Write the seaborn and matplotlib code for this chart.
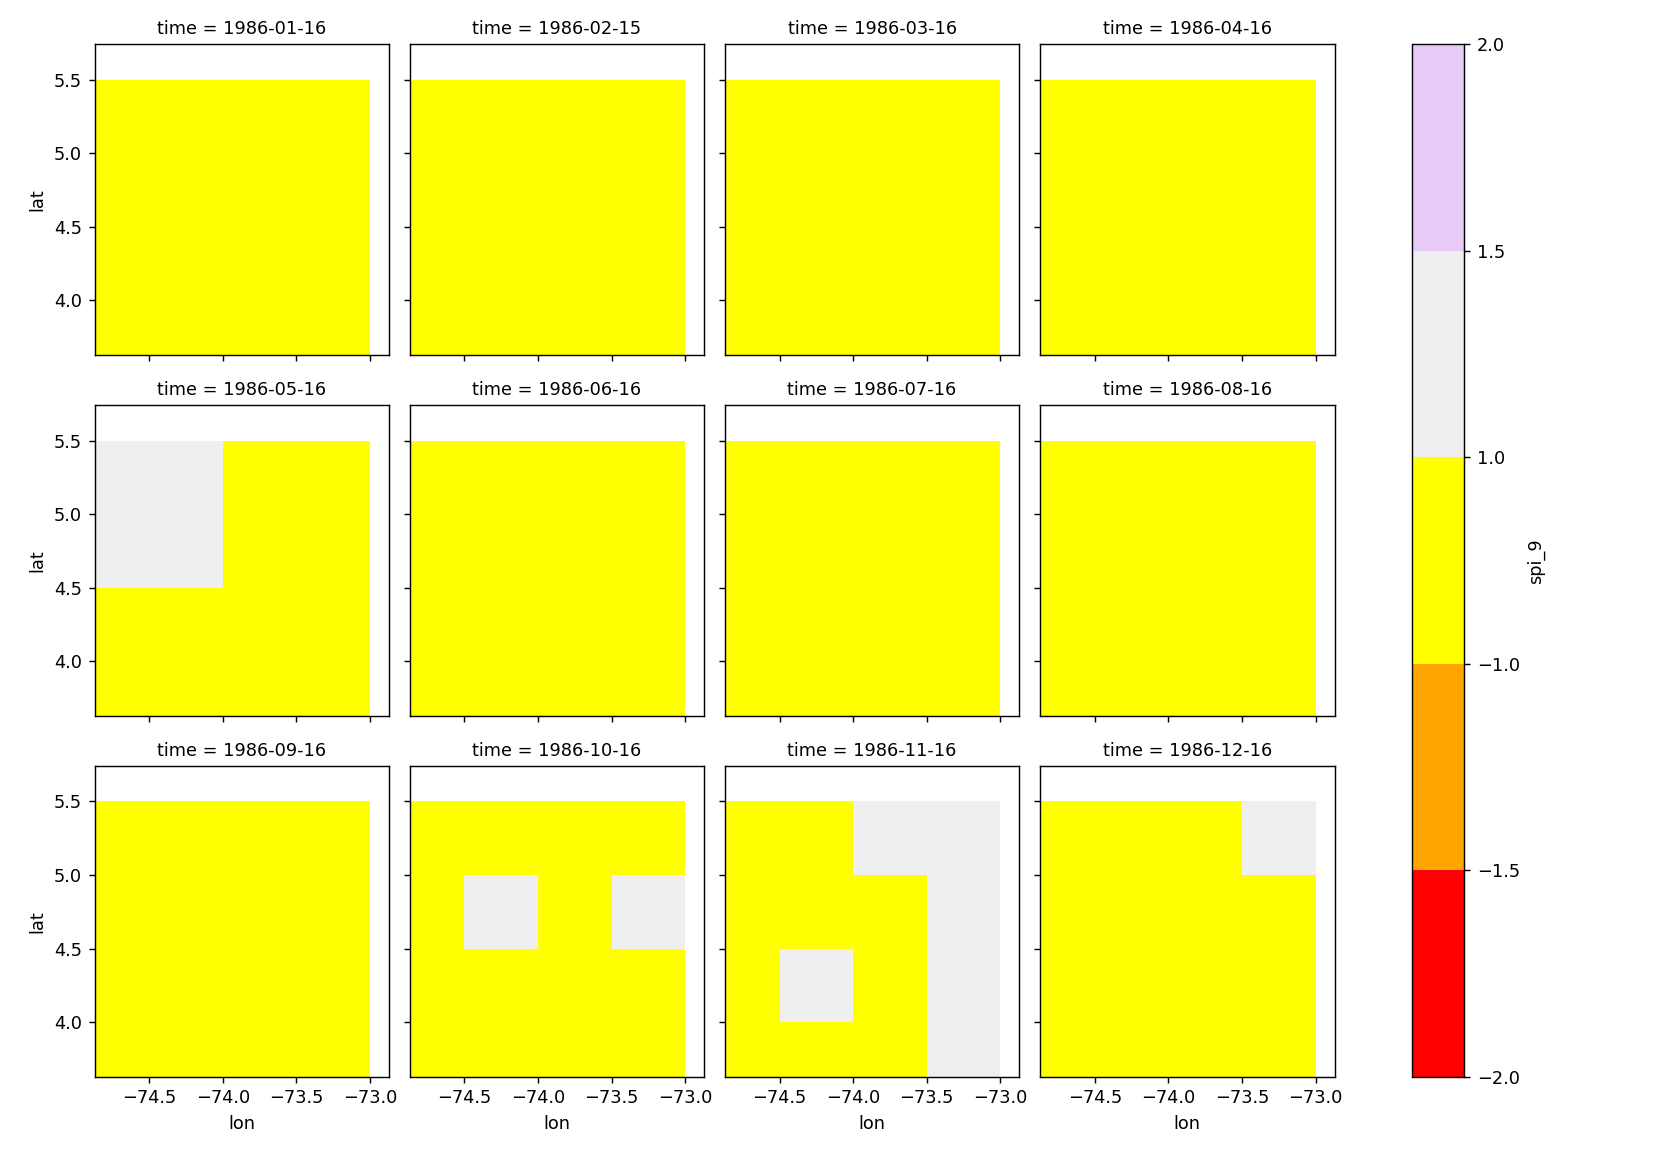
import numpy as np
import pandas as pd
import seaborn as sns
import matplotlib.pyplot as plt
from matplotlib.colors import ListedColormap, BoundaryNorm
from matplotlib.cm import ScalarMappable

# grid cell centres
lon = [-74.75, -74.25, -73.75, -73.25]
lat = [5.25, 4.75, 4.25, 3.75]  # rows below go north -> south

months = ["1986-01-16", "1986-02-15", "1986-03-16", "1986-04-16",
          "1986-05-16", "1986-06-16", "1986-07-16", "1986-08-16",
          "1986-09-16", "1986-10-16", "1986-11-16", "1986-12-16"]

# spi_9 values per month (approximate, read from the colour classes)
jan = [[0.5, 0.5, 0.5, 0.5], [0.5, 0.5, 0.5, 0.5], [0.5, 0.5, 0.5, 0.5], [0.5, 0.5, 0.5, 0.5]]
feb = [[0.5, 0.5, 0.5, 0.5], [0.5, 0.5, 0.5, 0.5], [0.5, 0.5, 0.5, 0.5], [0.5, 0.5, 0.5, 0.5]]
mar = [[0.5, 0.5, 0.5, 0.5], [0.5, 0.5, 0.5, 0.5], [0.5, 0.5, 0.5, 0.5], [0.5, 0.5, 0.5, 0.5]]
apr = [[0.5, 0.5, 0.5, 0.5], [0.5, 0.5, 0.5, 0.5], [0.5, 0.5, 0.5, 0.5], [0.5, 0.5, 0.5, 0.5]]
may = [[1.2, 1.2, 0.5, 0.5], [1.2, 1.2, 0.5, 0.5], [0.5, 0.5, 0.5, 0.5], [0.5, 0.5, 0.5, 0.5]]
jun = [[0.5, 0.5, 0.5, 0.5], [0.5, 0.5, 0.5, 0.5], [0.5, 0.5, 0.5, 0.5], [0.5, 0.5, 0.5, 0.5]]
jul = [[0.5, 0.5, 0.5, 0.5], [0.5, 0.5, 0.5, 0.5], [0.5, 0.5, 0.5, 0.5], [0.5, 0.5, 0.5, 0.5]]
aug = [[0.5, 0.5, 0.5, 0.5], [0.5, 0.5, 0.5, 0.5], [0.5, 0.5, 0.5, 0.5], [0.5, 0.5, 0.5, 0.5]]
sep = [[0.5, 0.5, 0.5, 0.5], [0.5, 0.5, 0.5, 0.5], [0.5, 0.5, 0.5, 0.5], [0.5, 0.5, 0.5, 0.5]]
oct_ = [[0.5, 0.5, 0.5, 0.5], [0.5, 1.2, 0.5, 1.2], [0.5, 0.5, 0.5, 0.5], [0.5, 0.5, 0.5, 0.5]]
nov = [[0.5, 0.5, 1.2, 1.2], [0.5, 0.5, 0.5, 1.2], [0.5, 1.2, 0.5, 1.2], [0.5, 0.5, 0.5, 1.2]]
dec = [[0.5, 0.5, 0.5, 1.2], [0.5, 0.5, 0.5, 0.5], [0.5, 0.5, 0.5, 0.5], [0.5, 0.5, 0.5, 0.5]]
grids = [jan, feb, mar, apr, may, jun, jul, aug, sep, oct_, nov, dec]

levels = [-2.0, -1.5, -1.0, 1.0, 1.5, 2.0]
colors = ["red", "orange", "yellow", "#efefef", "#e8ccf7"]

# long-form table
rows = []
for t, grid in zip(months, grids):
    for j, la in enumerate(lat):
        for i, lo in enumerate(lon):
            rows.append({"time": t, "lat": la, "lon": lo, "spi_9": grid[j][i]})
df = pd.DataFrame(rows)

cmap = ListedColormap(colors)
norm = BoundaryNorm(levels, cmap.N)


def edges(c):
    c = np.sort(np.asarray(c))
    d = np.diff(c)
    return np.concatenate([[c[0] - d[0] / 2], (c[:-1] + c[1:]) / 2, [c[-1] + d[-1] / 2]])


def draw_cells(data, **kws):
    ax = plt.gca()
    tab = data.pivot(index="lat", columns="lon", values="spi_9")
    ax.pcolormesh(edges(tab.columns), edges(tab.index), tab.values,
                  cmap=cmap, norm=norm, shading="flat")


g = sns.FacetGrid(df, col="time", col_wrap=4, col_order=months,
                  height=3, aspect=1, despine=False)
g.map_dataframe(draw_cells)
g.set_titles("time = {col_name}", size=10)
g.set_axis_labels("lon", "lat")
g.set(xlim=(-74.872, -72.871), ylim=(3.627, 5.74))

fig = g.figure
fig.set_size_inches(13, 9)
fig.subplots_adjust(left=0.0568, right=0.802, top=0.9614, bottom=0.0651,
                    wspace=0.0703, hspace=0.161)

cax = fig.add_axes([0.8487, 0.0651, 0.03125, 0.8963])
sm = ScalarMappable(norm=norm, cmap=cmap)
fig.colorbar(sm, cax=cax, ticks=levels, label="spi_9")

fig.savefig("out.png", dpi=128)
plt.close()
